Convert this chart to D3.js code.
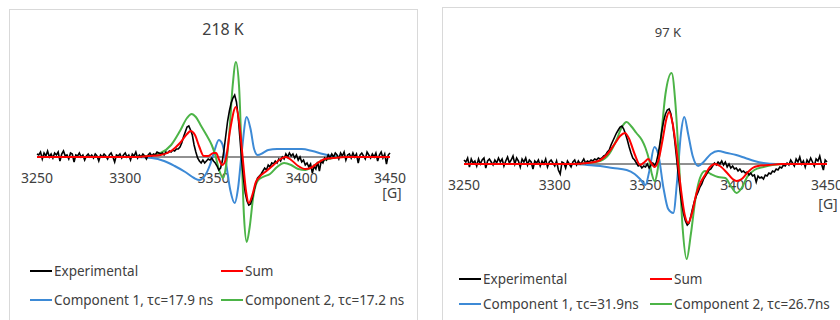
<!DOCTYPE html>
<html>
<head>
<meta charset="utf-8">
<script src="https://cdn.jsdelivr.net/npm/d3@7/dist/d3.min.js"></script>
<style>
	body { margin: 0; background: #fff; }
	svg text { font-family: "Noto Sans", sans-serif; fill: #404040; }
</style>
</head>
<body>
<div id="EprChart"></div>
<script>
// field axis, gauss
var fieldTicks = [3250, 3300, 3350, 3400, 3450];
var expStart = 3250;   // experimental traces sampled every 1 G

// ---- 218 K ----
var exp218 = [
	3, 2, 5, -2, 4, 1, 6, 0, 3, -1,
	4, 2, 5, -4, 3, 6, 1, 2, -2, 4,
	3, -5, 2, 1, 4, 0, 2, -3, 1, 3,
	0, 2, -1, 3, 1, -4, 2, 0, 3, 1,
	-2, 2, 4, 0, -5, 2, 1, 3, -1, 2,
	4, 0, 2, -3, 3, 1, 5, -1, 2, 0,
	3, 1, -2, 2, 4, 1, 3, 2, 5, 4,
	3, 4, 2, 5, 4, 6, 5, 7, 6, 8,
	8, 10, 14, 20, 25, 30, 31, 27, 22, 12,
	5, -1, -4, -6, -3, -6, -4, -2, -3, -1,
	-4, -6, -9, -13, -11, -4, 8, 22, 36, 46,
	54, 59, 62, 55, 40, 18, -4, -22, -36, -44,
	-48, -47, -41, -33, -26, -21, -19, -17, -14, -11,
	-13, -8, -10, -6, -7, -4, -6, -2, -4, 0,
	-2, 3, 0, 4, 1, 3, -1, 2, -3, 0,
	-5, -3, -8, -6, -10, -7, -16, -9, -12, -5,
	-14, -4, -6, -1, -3, 2, -1, 3, 0, 4,
	2, -2, 4, 1, 5, -3, 2, 3, -1, 4,
	0, 3, -6, 2, 4, 1, -2, 5, 2, -1,
	3, 0, 4, -4, 2, 5, -1, 3, -7, 2, 4
];
var sum218 = [[3250,0],[3305,0],[3313,1],[3320,2],[3326,6],[3331,14],[3335,23],[3337,26],[3339.5,22],[3342,10],[3344.5,1],[3347,1],[3350,4],[3351.5,4],[3353,-2],[3355,-8],[3357,-2],[3359.5,28],[3362.7,50],[3364.5,35],[3366.5,0],[3368.5,-35],[3370,-46],[3372,-38],[3374,-25],[3376,-20],[3380,-14],[3384,-8],[3388,-2],[3391,0],[3394,-3],[3398,-9],[3402,-12],[3405,-11],[3409,-6],[3413,-2],[3418,-1],[3425,0],[3450,0]];
var comp1_218 = [[3250,0],[3305,0],[3315,-1],[3322,-4],[3328,-9],[3334,-15],[3339,-21],[3342,-23],[3345,-19],[3348,-8],[3350.5,6],[3353,17],[3355,13],[3357,-5],[3359.5,-33],[3362,-46],[3364,-30],[3366,5],[3368.8,40],[3371,28],[3373,8],[3375,2],[3378,4],[3381,7],[3386,8],[3392,8],[3400,8],[3406,6],[3412,3],[3418,1],[3425,0],[3450,0]];
var comp2_218 = [[3250,0],[3300,0],[3312,1],[3320,4],[3326,12],[3331,26],[3335,39],[3337.6,43],[3340,40],[3343,31],[3346,22],[3349,12],[3351,2],[3353,-12],[3355.5,-21],[3357,-10],[3359,25],[3360.8,70],[3362.7,95],[3364.5,70],[3365.8,10],[3367.3,-60],[3368.8,-85],[3370.5,-70],[3372.5,-40],[3375,-24],[3378,-20],[3382,-17],[3386,-10],[3390,-6],[3394,-8],[3398,-12],[3402,-13],[3406,-10],[3410,-5],[3415,-2],[3422,0],[3450,0]];
var legend218 = ['Experimental', 'Sum', 'Component 1, \u03c4c=17.9 ns', 'Component 2, \u03c4c=17.2 ns'];

// ---- 97 K ----
var exp97 = [
	4, 2, 6, -3, 5, 1, 3, -2, 5, 0,
	4, 6, -4, 3, 5, 2, -1, 4, 1, 6,
	2, 5, -2, 3, 7, 1, 4, 8, 0, 6,
	3, -3, 5, 2, 6, -1, 4, 2, -5, 3,
	1, 4, -2, 3, 0, 5, -3, 2, 4, 1,
	-2, 3, -6, -10, 2, 1, -4, 3, 0, -3,
	2, 4, -1, 3, 0, 2, 5, 1, 3, 2,
	4, 3, 5, 4, 6, 5, 6, 8, 9, 12,
	14, 19, 23, 27, 31, 34, 37, 38, 35, 30,
	24, 17, 11, 6, 4, 1, -2, -1, -4, -2,
	-3, 0, -4, -1, 1, -2, 2, 10, 21, 33,
	43, 50, 54, 55, 50, 40, 25, 8, -10, -26,
	-40, -50, -57, -61, -59, -52, -44, -37, -32, -28,
	-23, -20, -15, -12, -9, -6, -5, -2, 1, -1,
	2, 0, 3, -1, 2, -3, 0, -4, -2, -5,
	-4, -7, -5, -8, -7, -9, -8, -11, -9, -12,
	-11, -18, -12, -14, -13, -15, -11, -12, -9, -10,
	-7, -8, -5, -6, -3, -4, -1, -2, 1, -1,
	4, 1, -2, 5, 2, 7, 0, 3, -3, 4,
	1, 6, 2, -2, 5, 3, 8, 0, -6, 4, 2
];
var sum97 = [[3250,0],[3310,0],[3318,1],[3324,3],[3329,10],[3333,20],[3336,28],[3338.7,31],[3341,25],[3344,10],[3347,-1],[3349.5,2],[3351.5,5],[3353.5,0],[3355,-3],[3357,3],[3359.5,25],[3361.5,45],[3363,52],[3365,40],[3367,15],[3369.5,-25],[3371.5,-50],[3373.6,-59],[3375.5,-50],[3378,-30],[3380.5,-18],[3382.8,-11],[3385.5,-3],[3388.3,0],[3391,-2],[3395,-9],[3398,-15],[3400.2,-17],[3403,-15],[3406,-9],[3409,-4],[3412,-2],[3418,-1],[3425,0],[3450,0]];
var comp1_97 = [[3250,0],[3310,0],[3318,-1],[3325,-2],[3332,-4],[3339.6,-6],[3344,-10],[3347,-15],[3350,-21],[3352,-8],[3354.9,17],[3357,10],[3360,-25],[3362.5,-45],[3365.3,-49],[3367.5,-15],[3369.5,30],[3371.4,47],[3373.5,30],[3376,8],[3379,-2],[3382,2],[3386,10],[3390,13],[3395,11],[3400,9],[3405,6],[3410,3],[3415,1],[3422,0],[3450,0]];
var comp2_97 = [[3250,0],[3310,0],[3318,1],[3325,3],[3330,10],[3334,24],[3337,37],[3339.6,42],[3342,38],[3345,31],[3348,24],[3350,16],[3352,4],[3353.5,-10],[3355,-17],[3356.5,-8],[3358.5,25],[3361,70],[3364.4,91],[3366.5,60],[3368.5,0],[3370.5,-65],[3372.7,-95],[3375,-70],[3377.5,-35],[3380,-14],[3382.8,-7],[3386,-10],[3390,-13],[3394,-14],[3397,-22],[3400.2,-29],[3403,-24],[3406,-13],[3410,-6],[3415,-3],[3420,-1],[3428,0],[3450,0]];
var legend97 = ['Experimental', 'Sum', 'Component 1, \u03c4c=31.9ns', 'Component 2, \u03c4c=26.7ns'];

var colors = ['#000000', '#ff0000', '#3d8ad6', '#4cb447'];

var svg = d3.select('#EprChart')
	.append('svg')
	.attr('width', 840)
	.attr('height', 320);

drawPanel({
	frame: [9.5, 9.5, 408, 330],
	title: '218 K', titleX: 223, titleY: 35, titleSize: 16,
	left: 37, right: 390, axisY: 157, labelY: 183, unitY: 198, unitX: 392,
	rowY: [271, 300], colX: [30, 221],
	exp: exp218, sum: sum218, comp1: comp1_218, comp2: comp2_218, legend: legend218
});

drawPanel({
	frame: [442.5, 7.5, 420, 330],
	title: '97 K', titleX: 668, titleY: 37, titleSize: 13,
	left: 464, right: 827, axisY: 164, labelY: 190, unitY: 209, unitX: 828,
	rowY: [279, 304], colX: [459, 650],
	exp: exp97, sum: sum97, comp1: comp1_97, comp2: comp2_97, legend: legend97
});

function drawPanel(p)
{
	var g = svg.append('g');

	g.append('rect')
		.attr('x', p.frame[0])
		.attr('y', p.frame[1])
		.attr('width', p.frame[2])
		.attr('height', p.frame[3])
		.attr('fill', '#fff')
		.attr('stroke', '#d9d9d9');

	g.append('text')
		.attr('x', p.titleX)
		.attr('y', p.titleY)
		.attr('text-anchor', 'middle')
		.style('font-size', p.titleSize + 'px')
		.text(p.title);

	var x = d3.scaleLinear()
		.domain([3250, 3450])
		.range([p.left, p.right]);

	// one unit = one pixel above the baseline
	var y = d3.scaleLinear()
		.domain([-100, 100])
		.range([p.axisY + 100, p.axisY - 100]);

	g.append('line')
		.attr('x1', x(3250))
		.attr('x2', x(3450))
		.attr('y1', y(0))
		.attr('y2', y(0))
		.attr('stroke', '#222')
		.attr('stroke-width', 1);

	g.selectAll('.tick-label')
		.data(fieldTicks)
		.enter()
		.append('text')
		.attr('class', 'tick-label')
		.attr('x', function(d) { return x(d); })
		.attr('y', p.labelY)
		.attr('text-anchor', 'middle')
		.style('font-size', '14px')
		.text(function(d) { return d; });

	g.append('text')
		.attr('x', p.unitX)
		.attr('y', p.unitY)
		.attr('text-anchor', 'middle')
		.style('font-size', '14px')
		.text('[G]');

	var smooth = d3.line()
		.x(function(d) { return x(d[0]); })
		.y(function(d) { return y(d[1]); })
		.curve(d3.curveMonotoneX);

	var raw = d3.line()
		.x(function(d, i) { return x(expStart + i); })
		.y(function(d) { return y(d); });

	g.append('path').attr('d', smooth(p.comp1)).attr('fill', 'none')
		.attr('stroke', colors[2]).attr('stroke-width', 2);
	g.append('path').attr('d', smooth(p.comp2)).attr('fill', 'none')
		.attr('stroke', colors[3]).attr('stroke-width', 2);
	g.append('path').attr('d', raw(p.exp)).attr('fill', 'none')
		.attr('stroke', colors[0]).attr('stroke-width', 1.6);
	g.append('path').attr('d', smooth(p.sum)).attr('fill', 'none')
		.attr('stroke', colors[1]).attr('stroke-width', 2);

	// legend, two rows by two columns
	var legend = g.selectAll('.legend')
		.data(p.legend)
		.enter()
		.append('g')
		.attr('class', 'legend')
		.attr('transform', function(d, i) {
			return 'translate(' + p.colX[i % 2] + ',' + p.rowY[Math.floor(i / 2)] + ')';
		});

	legend.append('line')
		.attr('x1', 0)
		.attr('x2', 22)
		.attr('stroke', function(d, i) { return colors[i]; })
		.attr('stroke-width', 2);

	legend.append('text')
		.attr('x', 24)
		.attr('y', 5)
		.style('font-size', '13.5px')
		.text(function(d) { return d; });
}
</script>
</body>
</html>
